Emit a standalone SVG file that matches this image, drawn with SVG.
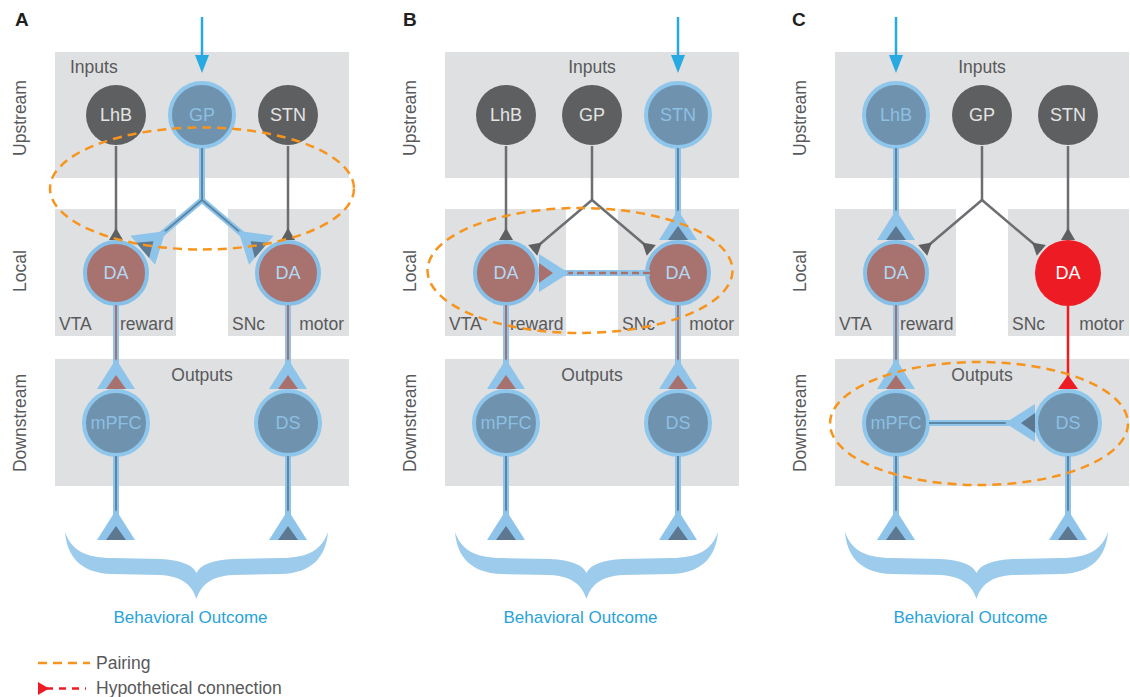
<svg xmlns="http://www.w3.org/2000/svg" xmlns:xlink="http://www.w3.org/1999/xlink" width="1130" height="697" viewBox="0 0 1130 697">
<style>
text{font-family:"Liberation Sans",Arial,Helvetica,sans-serif;}
.box{fill:#dfe0e1;}
.lbl{font-size:17.5px;fill:#58595b;}
.plabel{font-size:19px;font-weight:bold;fill:#231f20;}
.ntxt{font-size:18px;text-anchor:middle;}
.ngray{fill:#5e5f61;}
.tgray{fill:#e4e4e4;}
.nhl{fill:#6f93ae;stroke:#8ec6ec;stroke-width:4;}
.thl{fill:#8dbfe2;}
.nda{fill:#a8726e;stroke:#86c0e8;stroke-width:4;}
.tda{fill:#b3d9f3;}
.nred{fill:#ed1c24;}
.twhite{fill:#ffffff;}
.gline{fill:none;stroke:#6d6e71;stroke-width:2.5;}
.under{fill:none;stroke:#8ec4ea;stroke-width:6;stroke-linejoin:round;}
.core{fill:none;stroke:#5b86a6;stroke-width:2;}
.bcore{fill:none;stroke:#a8716d;stroke-width:2;}
.dcore{fill:none;stroke:#a8716d;stroke-width:2.5;stroke-dasharray:7 4;}
.rline{fill:none;stroke:#ed1c24;stroke-width:2.5;}
.inarrow{stroke:#27aae1;stroke-width:2.5;fill:none;}
.inhead{fill:#27aae1;}
.pair{fill:none;stroke:#f7941d;stroke-width:2.5;stroke-dasharray:9 6;}
.brace{fill:#9dcbec;}
.outc{font-size:17px;fill:#27a3dc;text-anchor:middle;}
</style>
<defs>
<marker id="mGray" markerUnits="userSpaceOnUse" viewBox="-40 -25 45 50" markerWidth="45" markerHeight="50" refX="0" refY="0" orient="auto">
<path d="M-12 0 L0 -7 L0 7 Z" fill="#5e5f61"/>
</marker>
<marker id="mHlGray" markerUnits="userSpaceOnUse" viewBox="-40 -25 45 50" markerWidth="45" markerHeight="50" refX="0" refY="0" orient="auto">
<path d="M-30 0 L0 -19 L0 19 Z" fill="#8ec4ea"/>
<path d="M-14 0 L0 -10 L0 10 Z" fill="#5d7890"/>
</marker>
<marker id="mHlBrown" markerUnits="userSpaceOnUse" viewBox="-40 -25 45 50" markerWidth="45" markerHeight="50" refX="0" refY="0" orient="auto">
<path d="M-30 0 L0 -19 L0 19 Z" fill="#8ec4ea"/>
<path d="M-14 0 L0 -10 L0 10 Z" fill="#a8716d"/>
</marker>
<marker id="mRed" markerUnits="userSpaceOnUse" viewBox="-40 -25 45 50" markerWidth="45" markerHeight="50" refX="0" refY="0" orient="auto">
<path d="M-14 0 L0 -10 L0 10 Z" fill="#ed1c24"/>
</marker>
<path id="bracePath" class="brace" d="M65 532 C67 556 80 573 112 574 L160 575 C182 576 192 585 196.5 599 C201 585 211 576 233 575 L281 574 C313 573 326 556 328 532 C322 549 309 558 281 558 L233 559 C212 560 200 565 196.5 573 C193 565 181 560 160 559 L112 558 C84 558 71 549 65 532 Z"/>
<g id="panelBg">
<rect class="box" x="55" y="52" width="294" height="126"/>
<rect class="box" x="55" y="209" width="121" height="127"/>
<rect class="box" x="228" y="209" width="121" height="127"/>
<rect class="box" x="55" y="359" width="294" height="127"/>
<text class="lbl" x="59" y="330">VTA</text>
<text class="lbl" x="120" y="330">reward</text>
<text class="lbl" x="232" y="330">SNc</text>
<text class="lbl" x="344" y="330" text-anchor="end">motor</text>
<text class="lbl" x="202" y="381" text-anchor="middle">Outputs</text>
<text class="lbl" x="26" y="118" text-anchor="middle" transform="rotate(-90 26 118)">Upstream</text>
<text class="lbl" x="26" y="271" text-anchor="middle" transform="rotate(-90 26 271)">Local</text>
<text class="lbl" x="26" y="423" text-anchor="middle" transform="rotate(-90 26 423)">Downstream</text>
<use xlink:href="#bracePath"/>
<text class="outc" x="190.5" y="623">Behavioral Outcome</text>
</g>
</defs>

<!-- Panel A -->
<g id="panelA">
<text class="plabel" x="15" y="26">A</text>
<use xlink:href="#panelBg"/>
<text class="lbl" x="70" y="73">Inputs</text>
<g id="A-nodes">
<g id="A-LhB"><circle class="ngray" cx="116" cy="115" r="30"/><text class="ntxt tgray" x="116" y="121">LhB</text></g>
<g id="A-GP"><circle class="nhl" cx="202" cy="115" r="32"/><text class="ntxt thl" x="202" y="121">GP</text></g>
<g id="A-STN"><circle class="ngray" cx="288" cy="115" r="30"/><text class="ntxt tgray" x="288" y="121">STN</text></g>
<g id="A-DA-VTA"><circle class="nda" cx="116" cy="273" r="31"/><text class="ntxt tda" x="116" y="279">DA</text></g>
<g id="A-DA-SNc"><circle class="nda" cx="288" cy="273" r="31"/><text class="ntxt tda" x="288" y="279">DA</text></g>
<g id="A-mPFC"><circle class="nhl" cx="116" cy="423" r="32"/><text class="ntxt thl" x="116" y="429">mPFC</text></g>
<g id="A-DS"><circle class="nhl" cx="288" cy="423" r="32"/><text class="ntxt thl" x="288" y="429">DS</text></g>
</g>
<g id="A-connectors">
<path class="inarrow" d="M202 17 V58"/><path class="inhead" d="M195 55 L209 55 L202 73 Z"/>
<path class="gline" d="M116 146 V240" marker-end="url(#mGray)"/>
<path class="gline" d="M288 146 V240" marker-end="url(#mGray)"/>
<path class="under" d="M202 148 V200 L142.7 250.3 M202 200 L261.3 250.3"/>
<path class="core" d="M202 148 V200"/>
<path class="core" d="M202 200 L142.7 250.3" marker-end="url(#mHlGray)"/>
<path class="core" d="M202 200 L261.3 250.3" marker-end="url(#mHlGray)"/>
<path class="under" d="M116 305 V389 M288 305 V389"/>
<path class="bcore" d="M116 305 V389" marker-end="url(#mHlBrown)"/>
<path class="bcore" d="M288 305 V389" marker-end="url(#mHlBrown)"/>
<path class="under" d="M116 456 V540 M288 456 V540"/>
<path class="core" d="M116 456 V540" marker-end="url(#mHlGray)"/>
<path class="core" d="M288 456 V540" marker-end="url(#mHlGray)"/>
</g>
<ellipse class="pair" cx="202" cy="188.5" rx="152" ry="61"/>
</g>

<!-- Panel B -->
<g id="panelB" transform="translate(390 0)">
<text class="plabel" x="13" y="26">B</text>
<use xlink:href="#panelBg"/>
<text class="lbl" x="202" y="73" text-anchor="middle">Inputs</text>
<g id="B-nodes">
<g id="B-LhB"><circle class="ngray" cx="116" cy="115" r="30"/><text class="ntxt tgray" x="116" y="121">LhB</text></g>
<g id="B-GP"><circle class="ngray" cx="202" cy="115" r="30"/><text class="ntxt tgray" x="202" y="121">GP</text></g>
<g id="B-STN"><circle class="nhl" cx="288" cy="115" r="32"/><text class="ntxt thl" x="288" y="121">STN</text></g>
<g id="B-DA-VTA"><circle class="nda" cx="116" cy="273" r="31"/><text class="ntxt tda" x="116" y="279">DA</text></g>
<g id="B-DA-SNc"><circle class="nda" cx="288" cy="273" r="31"/><text class="ntxt tda" x="288" y="279">DA</text></g>
<g id="B-mPFC"><circle class="nhl" cx="116" cy="423" r="32"/><text class="ntxt thl" x="116" y="429">mPFC</text></g>
<g id="B-DS"><circle class="nhl" cx="288" cy="423" r="32"/><text class="ntxt thl" x="288" y="429">DS</text></g>
</g>
<g id="B-connectors">
<path class="inarrow" d="M288 17 V58"/><path class="inhead" d="M281 55 L295 55 L288 73 Z"/>
<path class="gline" d="M116 146 V240" marker-end="url(#mGray)"/>
<path class="gline" d="M202 146 V200"/>
<path class="gline" d="M202 200 L142.7 250.3" marker-end="url(#mGray)"/>
<path class="gline" d="M202 200 L261.3 250.3" marker-end="url(#mGray)"/>
<path class="under" d="M288 148 V240"/>
<path class="core" d="M288 148 V240" marker-end="url(#mHlGray)"/>
<path class="under" d="M260 273 H160"/>
<path class="dcore" d="M260 273 H149" marker-end="url(#mHlBrown)"/>
<path class="under" d="M116 305 V389 M288 305 V389"/>
<path class="bcore" d="M116 305 V389" marker-end="url(#mHlBrown)"/>
<path class="bcore" d="M288 305 V389" marker-end="url(#mHlBrown)"/>
<path class="under" d="M116 456 V540 M288 456 V540"/>
<path class="core" d="M116 456 V540" marker-end="url(#mHlGray)"/>
<path class="core" d="M288 456 V540" marker-end="url(#mHlGray)"/>
</g>
<ellipse class="pair" cx="190" cy="270.5" rx="152.5" ry="62.5"/>
</g>

<!-- Panel C -->
<g id="panelC" transform="translate(780 0)">
<text class="plabel" x="12" y="26">C</text>
<use xlink:href="#panelBg"/>
<text class="lbl" x="202" y="73" text-anchor="middle">Inputs</text>
<g id="C-nodes">
<g id="C-LhB"><circle class="nhl" cx="116" cy="115" r="32"/><text class="ntxt thl" x="116" y="121">LhB</text></g>
<g id="C-GP"><circle class="ngray" cx="202" cy="115" r="30"/><text class="ntxt tgray" x="202" y="121">GP</text></g>
<g id="C-STN"><circle class="ngray" cx="288" cy="115" r="30"/><text class="ntxt tgray" x="288" y="121">STN</text></g>
<g id="C-DA-VTA"><circle class="nda" cx="116" cy="273" r="31"/><text class="ntxt tda" x="116" y="279">DA</text></g>
<g id="C-DA-SNc"><circle class="nred" cx="288" cy="273" r="33"/><text class="ntxt twhite" x="288" y="279">DA</text></g>
<g id="C-mPFC"><circle class="nhl" cx="116" cy="423" r="32"/><text class="ntxt thl" x="116" y="429">mPFC</text></g>
<g id="C-DS"><circle class="nhl" cx="288" cy="423" r="32"/><text class="ntxt thl" x="288" y="429">DS</text></g>
</g>
<g id="C-connectors">
<path class="inarrow" d="M116 17 V58"/><path class="inhead" d="M109 55 L123 55 L116 73 Z"/>
<path class="under" d="M116 148 V240"/>
<path class="core" d="M116 148 V240" marker-end="url(#mHlGray)"/>
<path class="gline" d="M202 146 V200"/>
<path class="gline" d="M202 200 L142.7 250.3" marker-end="url(#mGray)"/>
<path class="gline" d="M202 200 L261.3 250.3" marker-end="url(#mGray)"/>
<path class="gline" d="M288 146 V240" marker-end="url(#mGray)"/>
<path class="under" d="M116 305 V389"/>
<path class="bcore" d="M116 305 V389" marker-end="url(#mHlBrown)"/>
<path class="rline" d="M288 306 V389" marker-end="url(#mRed)"/>
<path class="under" d="M149 423 H240"/>
<path class="core" d="M149 423 H255" marker-end="url(#mHlGray)"/>
<path class="under" d="M116 456 V540 M288 456 V540"/>
<path class="core" d="M116 456 V540" marker-end="url(#mHlGray)"/>
<path class="core" d="M288 456 V540" marker-end="url(#mHlGray)"/>
</g>
<ellipse class="pair" cx="199" cy="423.5" rx="149" ry="61.5"/>
</g>

<!-- Legend -->
<g id="legend">
<path class="pair" d="M38 663 H90" stroke-dasharray="8 5"/>
<text class="lbl" x="96" y="669">Pairing</text>
<path d="M38 682 L49 688.5 L38 695 Z" fill="#ed1c24"/>
<path d="M46 688.5 H86" fill="none" stroke="#ed1c24" stroke-width="2.5" stroke-dasharray="7 6"/>
<text class="lbl" x="96" y="694">Hypothetical connection</text>
</g>
</svg>
